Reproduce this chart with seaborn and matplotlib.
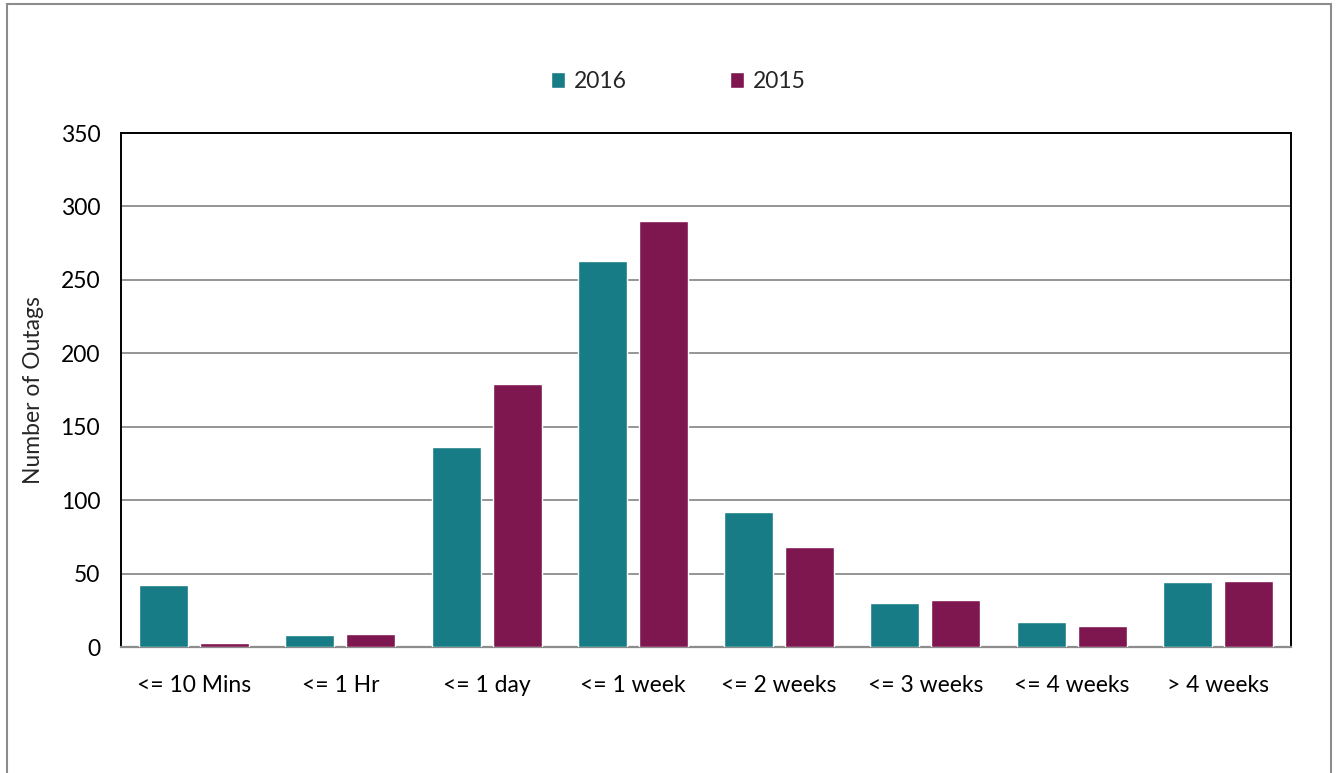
import numpy as np
import pandas as pd
import matplotlib.pyplot as plt
import seaborn as sns
from matplotlib.patches import Rectangle

# ==========================================================
# DATA
# ==========================================================

categories = ["<= 10 Mins", "<= 1 Hr", "<= 1 day", "<= 1 week",
              "<= 2 weeks", "<= 3 weeks", "<= 4 weeks", "> 4 weeks"]
years = ["2016", "2015"]
outages_2016 = [42, 8, 136, 263, 92, 30, 17, 44]
outages_2015 = [3, 9, 179, 290, 68, 32, 14, 45]
y_ticks = [0, 50, 100, 150, 200, 250, 300, 350]

colors = {"2016": "#177C85", "2015": "#7E1750"}

df = pd.DataFrame({
    "category": categories * 2,
    "year": ["2016"] * len(categories) + ["2015"] * len(categories),
    "outages": outages_2016 + outages_2015,
})

# ==========================================================
# PLOT
# ==========================================================

sns.set_style("white")
plt.rcParams["font.family"] = ["Lato", "DejaVu Sans"]
FS = 16.5

fig = plt.figure(figsize=(13.37, 7.73), dpi=100)
ax = fig.add_axes([121 / 1337, 126 / 773, 1170 / 1337, 514 / 773])

sns.barplot(
    data=df, x="category", y="outages", hue="year",
    order=categories, hue_order=years, palette=colors,
    width=0.834, gap=0.2, saturation=1, ax=ax, zorder=3,
)

ax.set_ylim(0, 350)
ax.set_yticks(y_ticks)
ax.set_xlim(-0.5, len(categories) - 0.5)
ax.yaxis.grid(True, color="#8c8c8c", linewidth=1.3, zorder=0)
ax.set_axisbelow(True)
ax.tick_params(axis="both", labelsize=FS, length=0, colors="black")
ax.tick_params(axis="x", pad=20)
ax.tick_params(axis="y", pad=15)
ax.set_xlabel("")
ax.set_ylabel("Number of Outags", fontsize=FS, labelpad=12)

for side in ["left", "top", "right"]:
    ax.spines[side].set_color("black")
    ax.spines[side].set_linewidth(1.4)
ax.spines["bottom"].set_color("#8c8c8c")
ax.spines["bottom"].set_linewidth(1.6)

leg = ax.legend(
    loc="center", bbox_to_anchor=(0.476, 1.1), ncol=2, frameon=False,
    fontsize=FS, handlelength=0.65, handleheight=0.65, handletextpad=0.35,
    columnspacing=4.5,
)

# outer chart border
fig.patches.append(Rectangle((7 / 1337, -0.05), 1324 / 1337, 1.05 - 4 / 773,
                             transform=fig.transFigure, fill=False,
                             edgecolor="#8c8c8c", linewidth=1.5))

fig.savefig("out.png", dpi=100)
